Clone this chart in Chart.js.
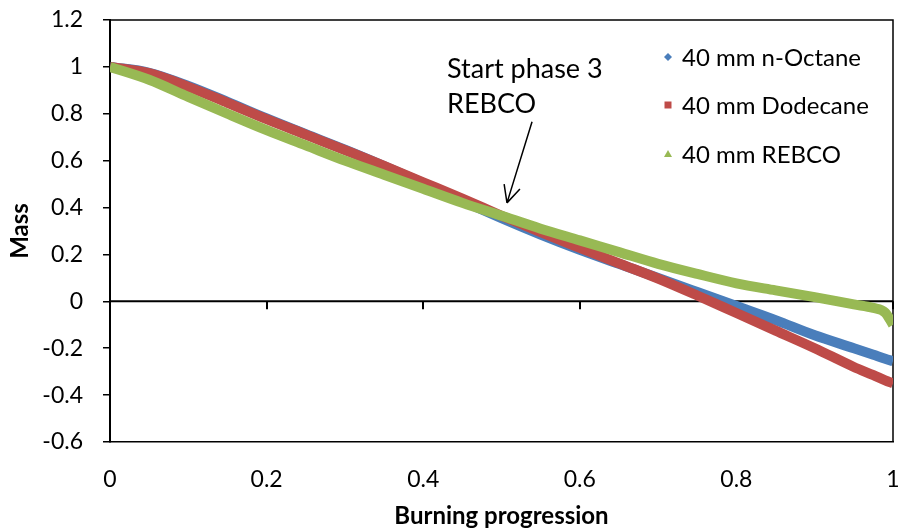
<!DOCTYPE html>
<html>
<head>
<meta charset="utf-8">
<script src="https://cdn.jsdelivr.net/npm/chart.js@4"></script>
<style>
  body { margin: 0; background: #fff; }
  canvas { display: block; }
</style>
</head>
<body>
<canvas id="massChart" width="899" height="531"></canvas>
<script>
// 연소 진행도 (x)
const progress = [0, 0.05, 0.1, 0.15, 0.2, 0.25, 0.3, 0.35, 0.4, 0.45, 0.5, 0.55, 0.6, 0.65, 0.7, 0.75, 0.8, 0.85, 0.9, 0.95, 0.975, 0.99, 1];
// 질량 (y)
const octane   = [1.0, 0.975, 0.919, 0.851, 0.78, 0.713, 0.647, 0.577, 0.504, 0.429, 0.355, 0.285, 0.22, 0.16, 0.1, 0.04, -0.02, -0.08, -0.145, -0.2, -0.228, -0.245, -0.255];
const dodecane = [1.0, 0.973, 0.915, 0.847, 0.777, 0.711, 0.645, 0.578, 0.508, 0.438, 0.365, 0.295, 0.228, 0.162, 0.097, 0.025, -0.05, -0.125, -0.2, -0.28, -0.315, -0.337, -0.35];
const rebco    = [1.0, 0.945, 0.872, 0.8, 0.73, 0.665, 0.6, 0.54, 0.48, 0.42, 0.365, 0.31, 0.26, 0.21, 0.16, 0.117, 0.077, 0.047, 0.018, -0.013, -0.028, -0.048, -0.1];

const seriesNames = ['40 mm n-Octane', '40 mm Dodecane', '40 mm REBCO'];
const seriesColors = ['#4a7ebb', '#be4b48', '#98b954'];
const markerShapes = ['diamond', 'square', 'triangle'];

const FONT = 'Lato, "Liberation Sans", sans-serif';

function toPoints(ys) {
    return progress.map((x, i) => ({ x: x, y: ys[i] }));
}

function tickText(v) {
    return String(Math.round(v * 10) / 10);
}

// 축/박스 (데이터 아래)
const framePlugin = {
    id: 'frame',
    beforeDatasetsDraw(chart) {
        const { ctx, chartArea: a, scales: { x, y } } = chart;
        ctx.save();
        ctx.strokeStyle = '#000';
        ctx.lineWidth = 1.5;
        ctx.beginPath();
        ctx.moveTo(a.left, a.top);
        ctx.lineTo(a.right, a.top);
        ctx.lineTo(a.right, a.bottom);
        ctx.stroke();

        // y=0 가로축 + 눈금
        const y0 = y.getPixelForValue(0);
        ctx.lineWidth = 2;
        ctx.beginPath();
        ctx.moveTo(a.left, y0);
        ctx.lineTo(a.right, y0);
        x.ticks.forEach(t => {
            if (t.value === 0) return;
            const px = Math.round(x.getPixelForValue(t.value));
            ctx.moveTo(px, y0);
            ctx.lineTo(px, y0 + 8);
        });
        ctx.stroke();
        ctx.restore();
    },
    afterDraw(chart) {
        const { ctx, scales: { x, y } } = chart;
        ctx.save();

        // 범례
        const legendX = 668, textX = 682;
        const rows = [57, 105, 154];
        ctx.font = '24px ' + FONT;
        ctx.textBaseline = 'middle';
        rows.forEach((ry, i) => {
            ctx.fillStyle = seriesColors[i];
            ctx.beginPath();
            if (markerShapes[i] === 'diamond') {
                ctx.moveTo(legendX, ry - 4); ctx.lineTo(legendX + 4, ry);
                ctx.lineTo(legendX, ry + 4); ctx.lineTo(legendX - 4, ry);
            } else if (markerShapes[i] === 'square') {
                ctx.rect(legendX - 3.5, ry - 3.5, 7, 7);
            } else {
                ctx.moveTo(legendX, ry - 4); ctx.lineTo(legendX + 4, ry + 3);
                ctx.lineTo(legendX - 4, ry + 3);
            }
            ctx.fill();
            ctx.fillStyle = '#000';
            ctx.fillText(seriesNames[i], textX, ry + 1);
        });

        // 주석
        ctx.font = '27px ' + FONT;
        ctx.textBaseline = 'alphabetic';
        ctx.fillText('Start phase 3', 447, 78);
        ctx.fillText('REBCO', 447, 113);

        const tx = x.getPixelForValue(0.507), ty = y.getPixelForValue(0.42);
        const sx = x.getPixelForValue(0.539), sy = y.getPixelForValue(0.766);
        ctx.strokeStyle = '#000';
        ctx.lineWidth = 1.5;
        ctx.beginPath();
        ctx.moveTo(sx, sy);
        ctx.lineTo(tx, ty);
        const ang = Math.atan2(ty - sy, tx - sx);
        const head = 19;
        ctx.moveTo(tx, ty);
        ctx.lineTo(tx - head * Math.cos(ang - 0.45), ty - head * Math.sin(ang - 0.45));
        ctx.moveTo(tx, ty);
        ctx.lineTo(tx - head * Math.cos(ang + 0.45), ty - head * Math.sin(ang + 0.45));
        ctx.stroke();
        ctx.restore();
    }
};

const datasets = [octane, dodecane, rebco].map((ys, i) => ({
    label: seriesNames[i],
    data: toPoints(ys),
    borderColor: seriesColors[i],
    backgroundColor: seriesColors[i],
    borderWidth: 10,
    pointRadius: 0,
    showLine: true,
    cubicInterpolationMode: 'monotone',
    order: 3 - i
}));

new Chart(document.getElementById('massChart'), {
    type: 'scatter',
    data: { datasets: datasets },
    options: {
        responsive: false,
        animation: false,
        devicePixelRatio: 1,
        layout: { padding: { top: 20, right: 6, left: 0, bottom: 0 } },
        plugins: {
            legend: { display: false },
            tooltip: { enabled: false }
        },
        scales: {
            x: {
                type: 'linear',
                min: 0,
                max: 1,
                afterFit: s => { s.height = 89; s.paddingLeft = 0; s.paddingRight = 0; },
                ticks: {
                    stepSize: 0.2,
                    color: '#000',
                    padding: 24,
                    font: { family: FONT, size: 23 },
                    callback: tickText
                },
                grid: { display: false, drawTicks: false },
                border: { display: true, color: '#000', width: 1.5 },
                title: {
                    display: true,
                    text: 'Burning progression',
                    color: '#000',
                    font: { family: FONT, size: 24, weight: 'bold' },
                    padding: { top: 0, bottom: 0 }
                }
            },
            y: {
                min: -0.6,
                max: 1.2,
                afterFit: s => { s.width = 110; s.paddingTop = 0; s.paddingBottom = 0; },
                ticks: {
                    stepSize: 0.2,
                    color: '#000',
                    padding: 20,
                    font: { family: FONT, size: 23 },
                    callback: tickText
                },
                grid: {
                    drawOnChartArea: false,
                    tickLength: 7,
                    color: '#000',
                    lineWidth: 1.5
                },
                border: { display: true, color: '#000', width: 2 },
                title: {
                    display: true,
                    text: 'Mass',
                    color: '#000',
                    font: { family: FONT, size: 24, weight: 'bold' },
                    padding: { top: 6, bottom: 0 }
                }
            }
        }
    },
    plugins: [framePlugin]
});
</script>
</body>
</html>
